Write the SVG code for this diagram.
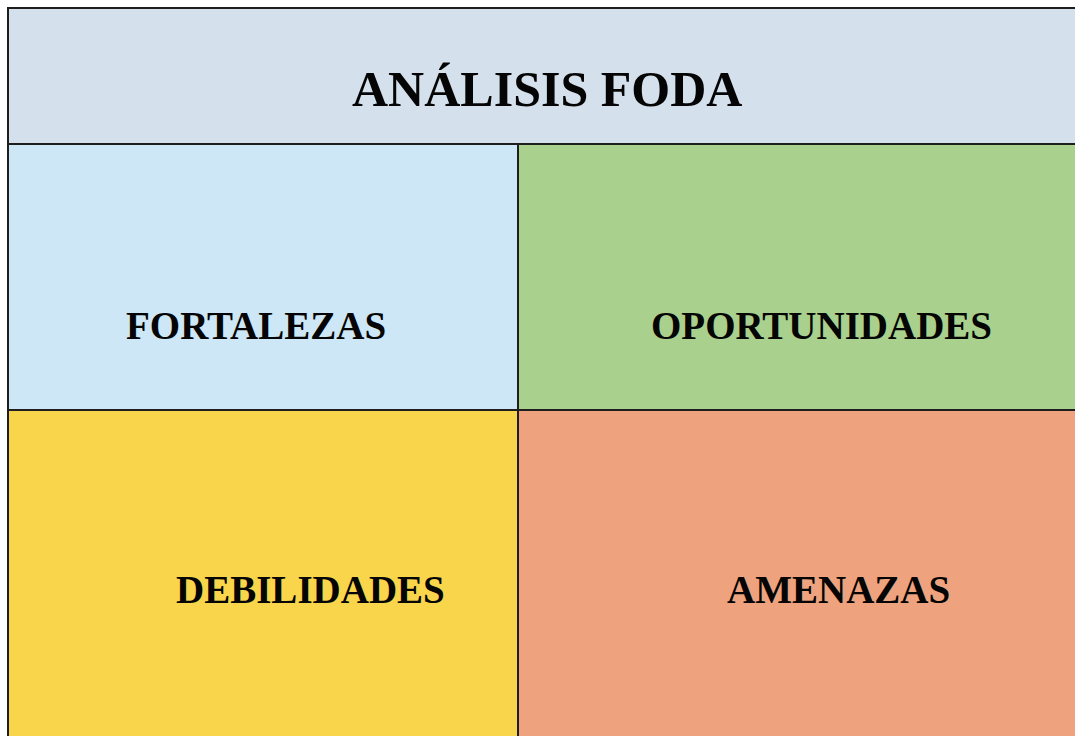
<svg xmlns="http://www.w3.org/2000/svg" width="1075" height="736" viewBox="0 0 1075 736">
<style>
.lbl{font-family:"Liberation Serif","Times New Roman",serif;font-weight:bold;fill:#050505;}
.ln{stroke:#1e1e1e;stroke-width:2;fill:none;}
</style>
<rect x="0" y="0" width="1075" height="736" fill="#ffffff"/>
<g id="header">
<rect x="8" y="8" width="1067" height="136" fill="#d4e0ec"/>
<text class="lbl" x="352" y="106" font-size="50">ANÁLISIS FODA</text>
</g>
<g id="fortalezas">
<rect x="8" y="144" width="510" height="266" fill="#cde7f6"/>
<text class="lbl" x="126" y="339" font-size="39">FORTALEZAS</text>
</g>
<g id="oportunidades">
<rect x="518" y="144" width="557" height="266" fill="#a9d08c"/>
<text class="lbl" x="651" y="339" font-size="39">OPORTUNIDADES</text>
</g>
<g id="debilidades">
<rect x="8" y="410" width="510" height="326" fill="#f8d54a"/>
<text class="lbl" x="176" y="603" font-size="39">DEBILIDADES</text>
</g>
<g id="amenazas">
<rect x="518" y="410" width="557" height="326" fill="#eea37e"/>
<text class="lbl" x="727" y="603" font-size="39">AMENAZAS</text>
</g>
<g id="lines">
<line class="ln" x1="8" y1="8" x2="1075" y2="8"/>
<line class="ln" x1="8" y1="7" x2="8" y2="736"/>
<line class="ln" x1="8" y1="144" x2="1075" y2="144"/>
<line class="ln" x1="518" y1="144" x2="518" y2="736"/>
<line class="ln" x1="8" y1="410" x2="1075" y2="410"/>
</g>
</svg>
